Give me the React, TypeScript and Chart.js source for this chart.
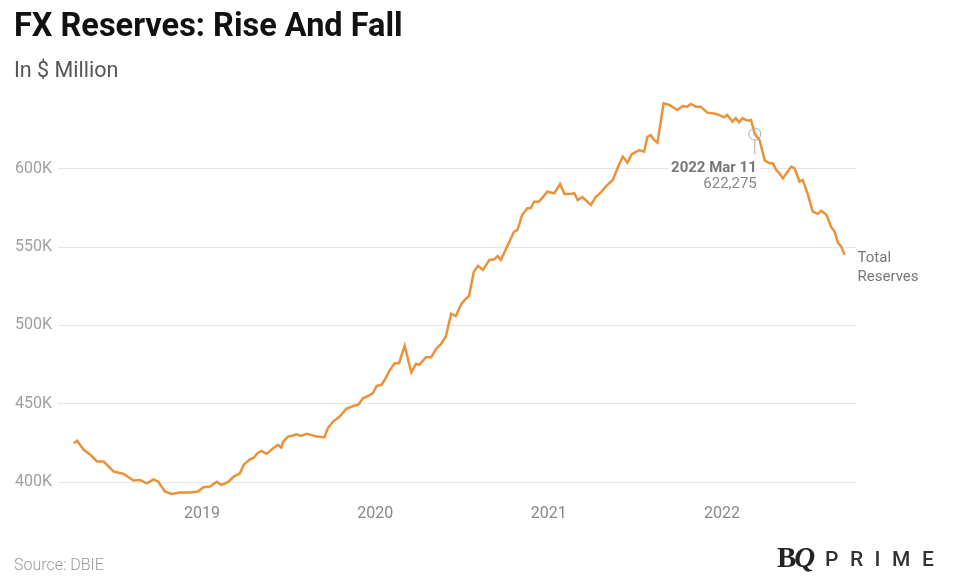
import React, { useEffect, useRef } from "react";
import { Chart, registerables } from "chart.js";

Chart.register(...registerables);

const titleText = "FX Reserves: Rise And Fall";
const subtitleText = "In $ Million";
const sourceText = "Source: DBIE";
const seriesLabelLines = ["Total", "Reserves"];

const dates = [
  "2018-04-06", "2018-04-13", "2018-04-27", "2018-05-11", "2018-05-25", "2018-06-08", "2018-06-29", "2018-07-20", "2018-08-10", "2018-08-24", "2018-09-07", "2018-09-21", "2018-10-01", "2018-10-15", "2018-10-29", "2018-11-16", "2018-12-07", "2018-12-24",
  "2019-01-04", "2019-01-18", "2019-02-01", "2019-02-11", "2019-02-26", "2019-03-09", "2019-03-22", "2019-03-30", "2019-04-12", "2019-04-20", "2019-04-28", "2019-05-06", "2019-05-17", "2019-05-31", "2019-06-10", "2019-06-17", "2019-06-21", "2019-07-01", "2019-07-12", "2019-07-19", "2019-07-29", "2019-08-09", "2019-08-19", "2019-08-30", "2019-09-16", "2019-09-23", "2019-10-04", "2019-10-18", "2019-11-01", "2019-11-17", "2019-11-26", "2019-12-06", "2019-12-20", "2019-12-27",
  "2020-01-04", "2020-01-14", "2020-01-21", "2020-01-31", "2020-02-11", "2020-02-20", "2020-03-03", "2020-03-17", "2020-03-27", "2020-04-03", "2020-04-17", "2020-04-28", "2020-05-08", "2020-05-19", "2020-05-29", "2020-06-09", "2020-06-19", "2020-07-01", "2020-07-10", "2020-07-17", "2020-07-27", "2020-08-05", "2020-08-15", "2020-08-29", "2020-09-08", "2020-09-15", "2020-09-22", "2020-10-02", "2020-10-20", "2020-10-27", "2020-11-06", "2020-11-17", "2020-11-24", "2020-12-01", "2020-12-11", "2020-12-18", "2020-12-29",
  "2021-01-13", "2021-01-25", "2021-02-03", "2021-02-17", "2021-02-24", "2021-03-03", "2021-03-13", "2021-03-31", "2021-04-10", "2021-04-21", "2021-05-02", "2021-05-16", "2021-05-28", "2021-06-06", "2021-06-16", "2021-06-25", "2021-07-11", "2021-07-21", "2021-07-28", "2021-08-04", "2021-08-11", "2021-08-18", "2021-08-31", "2021-09-12", "2021-09-29", "2021-10-10", "2021-10-20", "2021-10-27", "2021-11-07", "2021-11-17", "2021-12-01", "2021-12-15", "2021-12-26",
  "2022-01-05", "2022-01-12", "2022-01-23", "2022-01-30", "2022-02-06", "2022-02-13", "2022-02-24", "2022-03-03", "2022-03-11", "2022-03-21", "2022-04-01", "2022-04-11", "2022-04-18", "2022-04-25", "2022-05-02", "2022-05-09", "2022-05-19", "2022-05-27", "2022-06-03", "2022-06-13", "2022-06-20", "2022-07-01", "2022-07-11", "2022-07-22", "2022-07-29", "2022-08-09", "2022-08-19", "2022-08-26", "2022-09-02", "2022-09-09", "2022-09-16",
];

// Total reserves, in thousands of $ million (shown as "K")
const reserves = [
  424.8, 426.3, 420.6, 417.4, 413.1, 413.1, 406.7, 405.2, 401.0, 401.3, 399.2, 401.7, 400.2, 393.9, 392.4, 393.3, 393.3, 393.9,
  396.7, 397.1, 400.2, 398.0, 400.2, 403.5, 405.6, 411.0, 414.5, 415.5, 418.4, 419.9, 418.0, 421.6, 423.7, 422.0, 425.8, 429.0, 429.7, 430.5, 429.5, 430.8, 430.1, 429.0, 428.6, 434.4, 438.6, 441.8, 446.8, 448.7, 449.3, 453.5, 455.5, 456.8,
  461.4, 462.1, 465.3, 471.2, 475.9, 475.9, 487.0, 470.0, 475.5, 474.9, 479.7, 479.7, 484.9, 488.2, 493.0, 507.5, 506.0, 514.0, 517.0, 519.0, 534.4, 538.1, 535.5, 541.9, 542.3, 544.4, 541.9, 548.3, 560.0, 561.0, 570.6, 574.9, 574.9, 579.1, 579.1, 581.3, 585.5,
  584.5, 590.4, 584.0, 584.0, 584.5, 580.2, 582.0, 577.0, 582.0, 585.0, 589.0, 593.0, 602.0, 607.9, 604.0, 609.5, 612.0, 611.0, 620.6, 621.7, 618.5, 616.8, 641.9, 640.9, 637.7, 640.2, 639.8, 641.5, 639.8, 639.8, 636.0, 635.5, 634.5,
  633.0, 634.5, 630.2, 632.4, 629.8, 632.4, 630.8, 631.3, 622.275, 618.5, 605.5, 603.6, 603.6, 599.4, 597.2, 594.0, 598.3, 601.5, 600.4, 591.9, 593.0, 583.4, 572.7, 571.3, 573.4, 570.6, 562.8, 560.0, 553.0, 550.4, 545.1,
];

const xTickYears = [2019, 2020, 2021, 2022];
const yTickValues = [400, 450, 500, 550, 600];

const annotationDate = "2022-03-11";
const annotationTitle = "2022 Mar 11";
const annotationValueText = "622,275";

function decYear(s: string): number {
  const [y, m, d] = s.split("-").map(Number);
  const start = Date.UTC(y, 0, 1);
  const end = Date.UTC(y + 1, 0, 1);
  return y + (Date.UTC(y, m - 1, d) - start) / (end - start);
}

const FONT = "Roboto, 'Noto Sans', sans-serif";

export default function App() {
  const canvasRef = useRef<HTMLCanvasElement | null>(null);

  useEffect(() => {
    const canvas = canvasRef.current;
    if (!canvas) return;

    const annotationPlugin = {
      id: "annot",
      afterDatasetsDraw(chart: any) {
        const { ctx } = chart;
        const xs = chart.scales.x;
        const ys = chart.scales.y;
        const ai = dates.indexOf(annotationDate);
        const px = xs.getPixelForValue(decYear(annotationDate));
        const py = ys.getPixelForValue(reserves[ai]);
        ctx.save();
        ctx.font = `bold 15px ${FONT}`;
        const w1 = ctx.measureText(annotationTitle).width;
        ctx.fillStyle = "#ffffff";
        ctx.fillRect(px + 2 - w1 - 3, py + 25, w1 + 6, 17);
        ctx.textAlign = "right";
        ctx.textBaseline = "middle";
        ctx.fillStyle = "#777777";
        ctx.fillText(annotationTitle, px + 2, py + 34);
        ctx.font = `15px ${FONT}`;
        ctx.fillStyle = "#888888";
        ctx.fillText(annotationValueText, px + 2, py + 50);
        ctx.strokeStyle = "#aaaaaa";
        ctx.lineWidth = 1;
        ctx.beginPath();
        ctx.moveTo(px, py + 6);
        ctx.lineTo(px, py + 20);
        ctx.stroke();
        ctx.beginPath();
        ctx.arc(px, py, 6, 0, Math.PI * 2);
        ctx.stroke();
        const last = reserves.length - 1;
        const ex = xs.getPixelForValue(decYear(dates[last]));
        const ey = ys.getPixelForValue(reserves[last]);
        ctx.font = `15px ${FONT}`;
        ctx.textAlign = "left";
        ctx.fillStyle = "#777777";
        ctx.fillText(seriesLabelLines[0], ex + 13, ey + 3);
        ctx.fillText(seriesLabelLines[1], ex + 13, ey + 22);
        ctx.restore();
      },
    };

    const chart = new Chart(canvas, {
      type: "line",
      data: {
        datasets: [
          {
            label: "Total Reserves",
            data: dates.map((d, i) => ({ x: decYear(d), y: reserves[i] })),
            borderColor: "#EA923A",
            borderWidth: 2.5,
            pointRadius: 0,
            tension: 0,
            fill: false,
          },
        ],
      },
      options: {
        animation: false,
        responsive: false,
        devicePixelRatio: 1,
        layout: { padding: { top: 98, right: 102, left: 0, bottom: 0 } },
        plugins: { legend: { display: false }, tooltip: { enabled: false } },
        scales: {
          x: {
            type: "linear",
            min: 2018.1696,
            max: 2022.7728,
            grid: { display: false },
            border: { display: false },
            afterBuildTicks: (axis: any) => {
              axis.ticks = xTickYears.map((v) => ({ value: v }));
            },
            afterFit: (axis: any) => {
              axis.height = 88;
            },
            ticks: {
              autoSkip: false,
              maxRotation: 0,
              padding: -2,
              color: "#888888",
              font: { family: FONT, size: 16 },
              callback: (v: any) => String(v),
            },
          },
          y: {
            min: 389.78,
            max: 645.34,
            grid: { color: "#e6e6e6", drawTicks: false, lineWidth: 1 },
            border: { display: false },
            afterBuildTicks: (axis: any) => {
              axis.ticks = yTickValues.map((v) => ({ value: v }));
            },
            afterFit: (axis: any) => {
              axis.width = 58;
            },
            ticks: {
              padding: 6,
              color: "#a0a0a0",
              font: { family: FONT, size: 16 },
              callback: (v: any) => `${v}K`,
            },
          },
        },
      },
      plugins: [annotationPlugin],
    } as any);

    return () => chart.destroy();
  }, []);

  return (
    <div
      style={{
        position: "absolute",
        left: 0,
        top: 0,
        width: 958,
        height: 586,
        background: "#ffffff",
        fontFamily: FONT,
        overflow: "hidden",
      }}
    >
      <canvas ref={canvasRef} width={958} height={586} style={{ position: "absolute", left: 0, top: 0 }} />
      <div style={{ position: "absolute", left: 14, top: 9, fontSize: 32.5, fontWeight: 700, lineHeight: 1, color: "#111", whiteSpace: "nowrap" }}>
        {titleText}
      </div>
      <div style={{ position: "absolute", left: 14, top: 59, fontSize: 21.5, lineHeight: 1, color: "#555", whiteSpace: "nowrap" }}>
        {subtitleText}
      </div>
      <div style={{ position: "absolute", left: 14, top: 557, fontSize: 16, fontWeight: 300, lineHeight: 1, color: "#999", whiteSpace: "nowrap" }}>
        {sourceText}
      </div>
      <div style={{ position: "absolute", left: 777, top: 543, fontSize: 29, fontWeight: 700, lineHeight: 1, color: "#222", fontFamily: "'Liberation Serif', 'DejaVu Serif', serif", letterSpacing: -2, whiteSpace: "nowrap" }}>
        B<span style={{ fontStyle: "italic" }}>Q</span>
      </div>
      <div style={{ position: "absolute", left: 825, top: 549, fontSize: 21, fontWeight: 500, lineHeight: 1, color: "#333", letterSpacing: 11.5, whiteSpace: "nowrap" }}>
        PRIME
      </div>
    </div>
  );
}
